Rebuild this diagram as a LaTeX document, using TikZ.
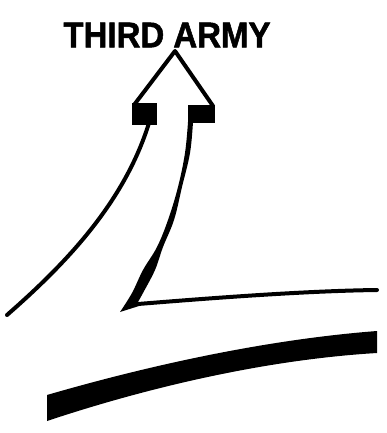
\documentclass[tikz,border=0pt]{standalone}
\usepackage{fontspec}
\setmainfont{Liberation Sans}
\newfontfamily\heavyfont[FakeBold=1.5]{Liberation Sans Bold}
\begin{document}
\begin{tikzpicture}[x=1pt,y=-1pt,
  ink/.style={line width=4pt,line cap=round,line join=round},
  lbl/.style={font=\fontsize{33}{33}\heavyfont,inner sep=0pt}]
\useasboundingbox (0,0) rectangle (386,433);
% label
\node[lbl,yscale=1.08] (label) at (167,35) {THIRD ARMY};
% arrow head
\coordinate (tip) at (175,51);
\coordinate (hl) at (134,105);
\coordinate (hr) at (213,106);
\draw[ink] (hl) -- (tip) -- (hr);
\fill (132,103) rectangle (157,125);
\fill (188,105) rectangle (215,123);
% left shaft line
\coordinate (ls) at (149,123);
\coordinate (le) at (7,315);
\draw[ink] (ls) .. controls (125,200) and (70,260) .. (le);
% right shaft (tapering)
\coordinate (rs) at (190,122);
\coordinate (rc) at (120,312);
\coordinate (ri) at (138,304);
\fill plot[smooth,tension=0.6] coordinates {(188,122) (185,153) (178,187) (168,220) (157,247) (143,270) (132,293) (rc)}
  -- (139,306)
  -- plot[smooth,tension=0.6] coordinates {(138,302) (143,293) (155,270) (163,247) (174,220) (182,187) (190,153) (193,122)}
  -- cycle;
% horizontal line
\coordinate (he) at (377,290);
\draw[ink] (ri) .. controls (200,299) and (300,291) .. (he);
% thick band
\fill (47,395) .. controls (140,368) and (260,340) .. (377,331)
  -- (377,353) .. controls (260,360) and (140,390) .. (47,421) -- cycle;
\end{tikzpicture}
\end{document}
